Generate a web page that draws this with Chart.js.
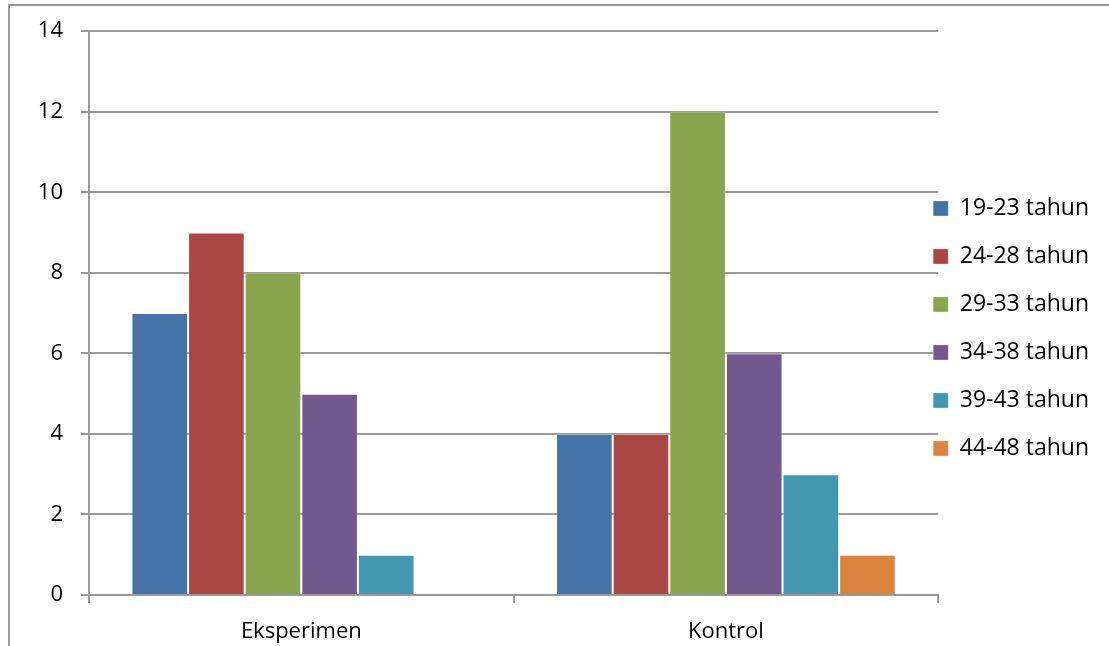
<!DOCTYPE html>
<html>
<head>
<meta charset="utf-8">
<script src="https://cdn.jsdelivr.net/npm/chart.js@4"></script>
<style>
  html, body { margin: 0; padding: 0; background: #fff; }
  #wrap { width: 1109px; height: 646px; }
</style>
</head>
<body>
<div id="wrap"><canvas id="myChart" width="1109" height="646"></canvas></div>
<script>
const groups = ['Eksperimen', 'Kontrol'];
const ageLabels = ['19-23 tahun', '24-28 tahun', '29-33 tahun', '34-38 tahun', '39-43 tahun', '44-48 tahun'];
const age19_23 = [7, 4];
const age24_28 = [9, 4];
const age29_33 = [8, 12];
const age34_38 = [5, 6];
const age39_43 = [1, 3];
const age44_48 = [0, 1];
const yTicks = [0, 2, 4, 6, 8, 10, 12, 14];

const colors = ['#4572A7', '#AA4643', '#89A54E', '#71588F', '#4198AF', '#DB843D'];
const allValues = [age19_23, age24_28, age29_33, age34_38, age39_43, age44_48];

const font = { family: 'Open Sans', size: 22 };

// outer chart frame (top and left edges are visible)
const framePlugin = {
    id: 'frame',
    beforeDraw(chart) {
        const c = chart.ctx;
        c.save();
        c.strokeStyle = '#999999';
        c.lineWidth = 2;
        c.beginPath();
        c.moveTo(9, chart.height);
        c.lineTo(9, 5);
        c.lineTo(chart.width, 5);
        c.stroke();
        c.restore();
    },
    afterLayout(chart) {
        // pull the legend back so its boxes sit on the plot's right edge
        const lg = chart.legend;
        lg.left = chart.chartArea.right - 5 - lg.options.labels.padding;
        lg.top -= 9;
        lg.bottom -= 9;
    }
};

const ctx = document.getElementById('myChart');

const myChart = new Chart(ctx, {
    type: 'bar',
    data: {
        labels: groups,
        datasets: ageLabels.map((l, i) => ({
            label: l,
            data: allValues[i],
            backgroundColor: colors[i],
            borderColor: 'rgba(255,255,255,0.25)',
            borderWidth: 1,
            categoryPercentage: 0.8,
            barPercentage: 1
        }))
    },
    options: {
        responsive: false,
        animation: false,
        layout: { padding: { top: 29, left: 10, right: -20, bottom: 0 } },
        plugins: {
            legend: {
                position: 'right',
                labels: {
                    font: { family: 'Open Sans', size: 23 },
                    color: '#000',
                    boxWidth: 15,
                    boxHeight: 15,
                    padding: 25
                }
            },
            tooltip: { enabled: false }
        },
        scales: {
            x: {
                grid: { drawOnChartArea: false, color: '#999', lineWidth: 2, tickLength: 8 },
                border: { color: '#999', width: 2 },
                ticks: { font: font, color: '#000', padding: 16 },
                afterFit: (s) => { s.height = 51; }
            },
            y: {
                min: 0,
                max: 14,
                afterBuildTicks: (s) => { s.ticks = yTicks.map(v => ({ value: v })); },
                grid: { color: '#999', lineWidth: 2, tickLength: 8 },
                border: { color: '#999', width: 2 },
                ticks: { font: font, color: '#000', padding: 18 },
                afterFit: (s) => { s.width = 79; }
            }
        }
    },
    plugins: [framePlugin]
});
</script>
</body>
</html>
